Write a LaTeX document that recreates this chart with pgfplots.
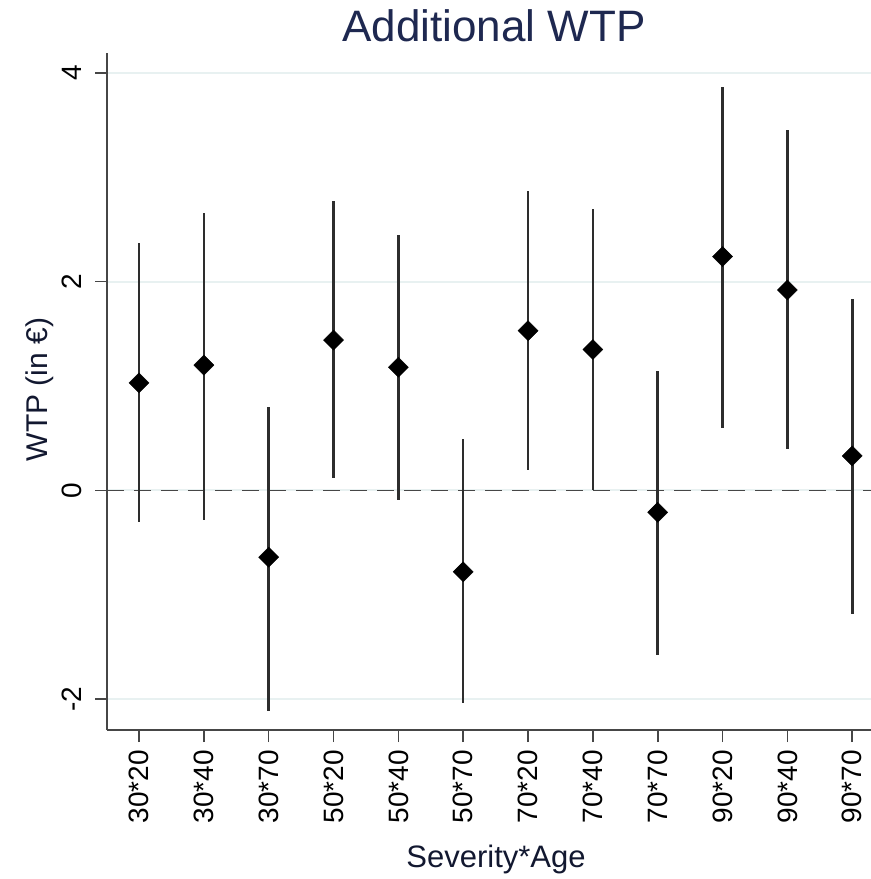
\documentclass[border=0pt]{standalone}
\usepackage{pgfplots}
\pgfplotsset{compat=1.18}
\usepackage{pgfplotstable}
\usepackage{fontspec}
\setmainfont{Liberation Sans}
\usetikzlibrary{calc}
\definecolor{gridc}{RGB}{232,241,241}
\definecolor{spine}{RGB}{70,70,70}
\definecolor{titlec}{RGB}{30,40,80}
\definecolor{barc}{RGB}{45,45,45}
\pgfplotstableread{
x y ep em
0 1.03 1.34 1.33
1 1.20 1.46 1.48
2 -0.64 1.44 1.47
3 1.44 1.33 1.32
4 1.18 1.27 1.27
5 -0.78 1.27 1.26
6 1.53 1.34 1.33
7 1.35 1.35 1.35
8 -0.21 1.35 1.37
9 2.24 1.62 1.64
10 1.92 1.53 1.52
11 0.33 1.50 1.51
}\wtp
\begin{document}
\begin{tikzpicture}
\begin{axis}[
  name=ax,
  scale only axis,
  width=764bp, height=677bp,
  xmin=-0.494, xmax=11.29,
  ymin=-2.295, ymax=4.19,
  axis x line*=bottom, axis y line*=left,
  axis line style={spine, line width=1.6bp, -},
  xtick={0,...,11},
  xticklabels={30*20,30*40,30*70,50*20,50*40,50*70,70*20,70*40,70*70,90*20,90*40,90*70},
  ytick={-2,0,2,4},
  tick align=outside,
  major tick length=12bp,
  tick style={spine, line width=1.6bp},
  ymajorgrids,
  grid style={gridc, line width=2bp},
  /pgf/number format/assume math mode=true,
  xticklabel style={rotate=90, anchor=east, inner sep=0pt, font=\fontsize{28bp}{30bp}\selectfont},
  yticklabel style={rotate=90, anchor=south, inner sep=0pt, font=\fontsize{28bp}{30bp}\selectfont},
  xticklabel shift=8bp,
  yticklabel shift=13bp,
  clip=false,
]
\addplot[spine, line width=1.6bp, dash pattern=on 17bp off 10bp] coordinates {(-0.494,0) (11.29,0)};
\addplot[only marks, mark=square*, mark size=7.1bp, mark options={rotate=45, black, fill=black},
  error bars/.cd, y dir=both, y explicit, error mark=none,
  error bar style={barc, line width=2.6bp}]
  table[x=x, y=y, y error plus=ep, y error minus=em] {\wtp};
\end{axis}
\node[anchor=base, text=titlec, font=\fontsize{44bp}{48bp}\selectfont] at ($(ax.north)+(5bp,11bp)$) {Additional WTP};
\node[anchor=base, text=titlec!60!black, font=\fontsize{31bp}{34bp}\selectfont] at ($(ax.south)+(7bp,-137bp)$) {Severity*Age};
\node[anchor=base, rotate=90, text=titlec!60!black, font=\fontsize{30bp}{33bp}\selectfont] at ($(ax.west)+(-59bp,2bp)$) {WTP (in €)};
\pgfresetboundingbox
\path ($(ax.south west)+(-107bp,-149bp)$) rectangle ($(ax.north east)+(0bp,53bp)$);
\end{tikzpicture}
\end{document}
